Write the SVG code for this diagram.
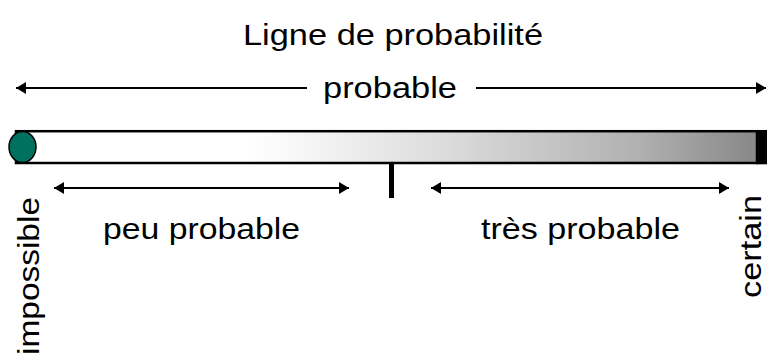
<svg xmlns="http://www.w3.org/2000/svg" width="767" height="356" viewBox="0 0 767 356">
<style>
text{font-family:"Liberation Sans",Arial,Helvetica,sans-serif;fill:#000}
.t{font-size:29.5px}
.ln{stroke:#000;stroke-width:2.2;fill:none}
</style>
<defs>
<linearGradient id="g" x1="0" y1="0" x2="1" y2="0">
<stop offset="0" stop-color="#fff"/>
<stop offset="0.316" stop-color="#fff"/>
<stop offset="0.444" stop-color="#eee"/>
<stop offset="0.572" stop-color="#ddd"/>
<stop offset="0.842" stop-color="#b0b0b0"/>
<stop offset="1" stop-color="#888"/>
</linearGradient>
<marker id="ah" viewBox="0 0 10 12" refX="10" refY="6" markerWidth="10" markerHeight="12" markerUnits="userSpaceOnUse" orient="auto-start-reverse">
<path d="M0,0 L10,6 L0,12 Z" fill="#000"/>
</marker>
</defs>
<g id="title"><text x="243" y="44.5" style="font-size:30px" textLength="300" lengthAdjust="spacingAndGlyphs">Ligne de probabilité</text></g>
<g id="connectors">
<line class="ln" x1="16" y1="88" x2="307" y2="88" marker-start="url(#ah)"/>
<line class="ln" x1="476" y1="88" x2="766" y2="88" marker-end="url(#ah)"/>
<line class="ln" x1="54" y1="188" x2="349" y2="188" marker-start="url(#ah)" marker-end="url(#ah)"/>
<line class="ln" x1="431" y1="188" x2="729" y2="188" marker-start="url(#ah)" marker-end="url(#ah)"/>
</g>
<g id="probable"><text class="t" x="323" y="98" textLength="134" lengthAdjust="spacingAndGlyphs">probable</text></g>
<g id="bar">
<rect x="16" y="131.2" width="741" height="31.8" fill="url(#g)" stroke="#000" stroke-width="2.5"/>
<rect x="756" y="130" width="11" height="34.3" fill="#000"/>
<ellipse cx="22.5" cy="147" rx="13.5" ry="15.5" fill="#00705f" stroke="#000" stroke-width="1.5"/>
<rect x="389" y="163" width="5" height="35" fill="#000"/>
</g>
<g id="peu"><text class="t" x="103" y="238.5" textLength="197" lengthAdjust="spacingAndGlyphs">peu probable</text></g>
<g id="tres"><text class="t" x="481" y="238.5" textLength="199" lengthAdjust="spacingAndGlyphs">très probable</text></g>
<g id="impossible"><text class="t" transform="translate(39,355) rotate(-90)" x="0" y="0" textLength="158" lengthAdjust="spacingAndGlyphs">impossible</text></g>
<g id="certain"><text class="t" transform="translate(760.5,298) rotate(-90)" x="0" y="0" textLength="103" lengthAdjust="spacingAndGlyphs">certain</text></g>
</svg>
